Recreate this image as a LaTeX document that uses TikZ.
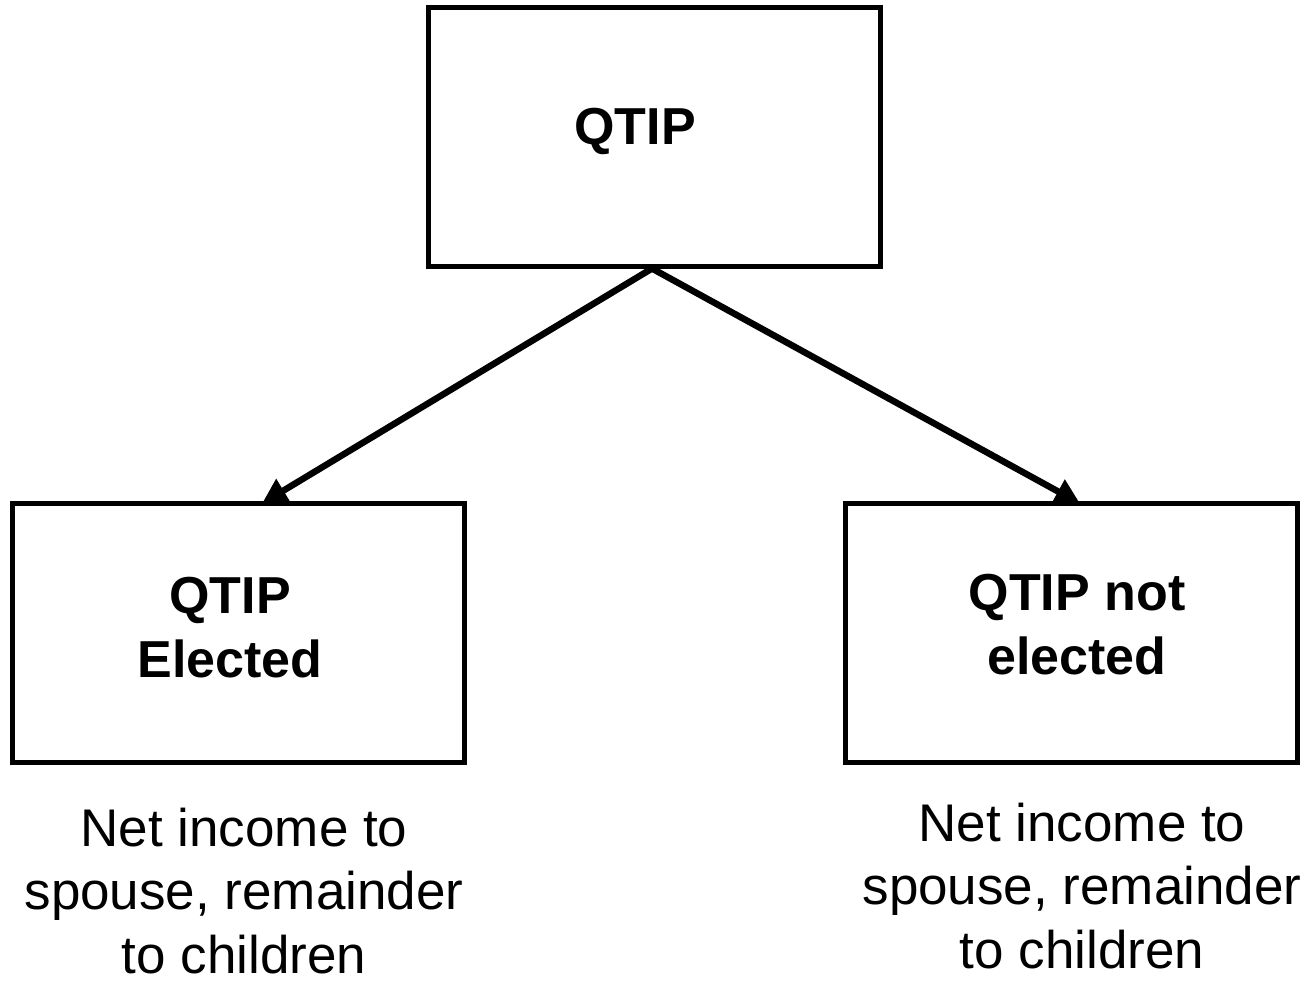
\documentclass[tikz,border=0pt]{standalone}
\usepackage{fontspec}
\setmainfont{Liberation Sans}
\usetikzlibrary{arrows.meta}
\begin{document}
\begin{tikzpicture}[x=1pt,y=-1pt,
  box/.style={draw=black,line width=5pt,rectangle,inner sep=0pt,minimum width=452pt,minimum height=259pt},
  boldtxt/.style={font=\fontsize{52}{64}\selectfont\bfseries,align=center,inner sep=0pt,anchor=base},
  plaintxt/.style={font=\fontsize{53}{63.5}\selectfont,align=center,inner sep=0pt,anchor=base},
  arr/.style={line width=6.5pt,-{Triangle[length=25pt,width=26pt]}}]
\useasboundingbox (0,0) rectangle (1309,980);
\node[box] (top) at (654,136.5) {};
\node[box] (L) at (238,632.5) {};
\node[box] (R) at (1071,632.5) {};
\node[boldtxt] (topt) at (635,144) {QTIP};
\node[boldtxt] (Lt) at (230,677) {QTIP\\Elected};
\node[boldtxt] (Rt) at (1077,674) {QTIP not\\elected};
\node[plaintxt] (Lb) at (244,973) {Net income to\\spouse, remainder\\to children};
\node[plaintxt] (Rb) at (1082,968) {Net income to\\spouse, remainder\\to children};
\coordinate (Lend) at ([xshift=24pt,yshift=-3pt]L.north);
\coordinate (Rend) at ([xshift=9pt,yshift=-3pt]R.north);
\draw[arr] ([xshift=-2pt]top.south) -- (Lend);
\draw[arr] ([xshift=-2pt]top.south) -- (Rend);
\end{tikzpicture}
\end{document}
